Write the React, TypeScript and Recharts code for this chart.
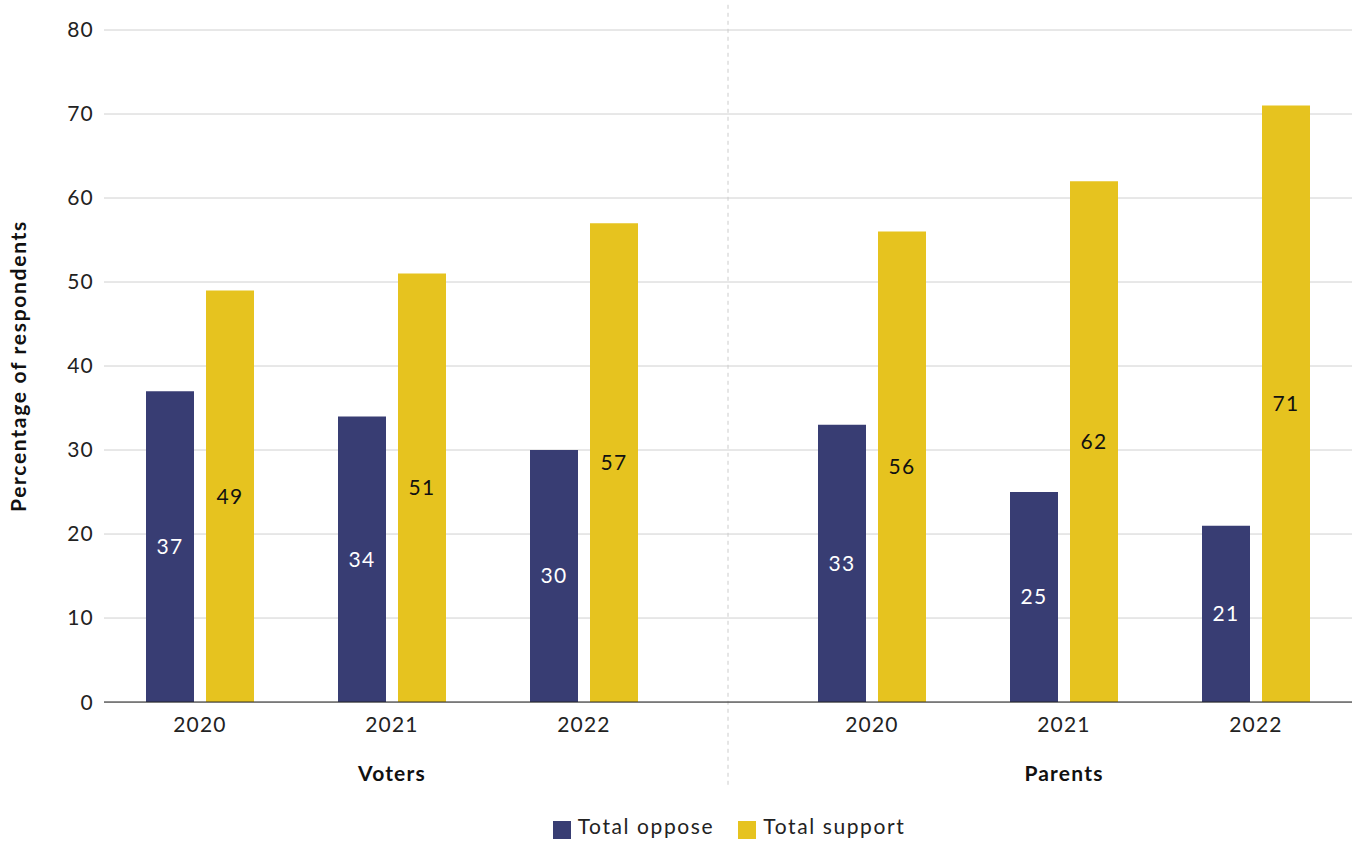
import {
  BarChart,
  Bar,
  XAxis,
  YAxis,
  CartesianGrid,
  Legend,
  LabelList,
  ReferenceLine,
} from "recharts";

const groups = ["Voters", "Parents"];
const years = ["2020", "2021", "2022"];
const oppose = [37, 34, 30, 33, 25, 21];
const support = [49, 51, 57, 56, 62, 71];
const yTicks = [0, 10, 20, 30, 40, 50, 60, 70, 80];

const NAVY = "#383d73";
const YELLOW = "#e6c31f";
const TEXT = "#222";
const FONT = "Lato, 'Noto Sans', sans-serif";

// each group takes 3 slots, with half a slot of space between groups
const slotOf = (g: number, y: number) => g * (years.length + 0.5) + y + 0.5;

const data = groups.flatMap((_, g) =>
  years.map((year, y) => ({
    x: slotOf(g, y),
    year,
    oppose: oppose[g * years.length + y],
    support: support[g * years.length + y],
  }))
);

const yearTicks = data.map((d) => d.x);
const groupTicks = groups.map((_, g) => slotOf(g, (years.length - 1) / 2));
const maxX = groups.length * years.length + 0.5;
const divider = years.length + 0.25;

const yearLabel = (v: number) => data.find((d) => d.x === v)?.year ?? "";
const groupLabel = (v: number) => groups[groupTicks.indexOf(v)] ?? "";

function YLabel({ viewBox }: any) {
  const cy = viewBox.y + viewBox.height / 2;
  return (
    <text
      x={18}
      y={cy}
      transform={`rotate(-90, 18, ${cy})`}
      textAnchor="middle"
      dominantBaseline="central"
      fontSize={21}
      fontWeight={700}
      fill="#111"
      style={{ letterSpacing: 1.7 }}
    >
      Percentage of respondents
    </text>
  );
}

export default function App() {
  return (
    <div
      style={{
        position: "absolute",
        left: 0,
        top: 0,
        fontFamily: FONT,
        letterSpacing: 1.2,
      }}
    >
      <BarChart
        width={1354}
        height={841}
        data={data}
        barSize={48}
        barGap={12}
        margin={{ top: 30, right: 2, left: 0, bottom: 2 }}
      >
        <CartesianGrid vertical={false} stroke="#d0d0d0" />
        <XAxis
          dataKey="x"
          type="number"
          domain={[0, maxX]}
          ticks={yearTicks}
          tickFormatter={yearLabel}
          tickLine={false}
          axisLine={{ stroke: "#222" }}
          tickMargin={9}
          height={50}
          tick={{ fill: TEXT, fontSize: 21 }}
          interval={0}
        />
        <XAxis
          xAxisId="group"
          dataKey="x"
          type="number"
          domain={[0, maxX]}
          ticks={groupTicks}
          tickFormatter={groupLabel}
          tickLine={false}
          axisLine={false}
          tickMargin={8}
          height={61}
          tick={{ fill: "#111", fontSize: 21, fontWeight: 700 }}
          interval={0}
        />
        <YAxis
          domain={[0, 80]}
          ticks={yTicks}
          width={104}
          axisLine={false}
          tickLine={false}
          tickMargin={4}
          tick={{ fill: TEXT, fontSize: 21 }}
          label={<YLabel />}
        />
        <ReferenceLine
          segment={[
            { x: divider, y: 83 },
            { x: divider, y: -10 },
          ]}
          stroke="#cccccc"
          strokeDasharray="4 4"
          ifOverflow="visible"
        />
        <Legend
          verticalAlign="bottom"
          iconType="square"
          iconSize={18}
          wrapperStyle={{ left: 117, width: 1248 }}
          formatter={(value: string) => (
            <span
              style={{
                color: TEXT,
                fontSize: 21,
                letterSpacing: 1.6,
                marginLeft: 3,
                marginRight: 14,
              }}
            >
              {value}
            </span>
          )}
        />
        <Bar dataKey="oppose" name="Total oppose" fill={NAVY} isAnimationActive={false}>
          <LabelList dataKey="oppose" position="center" fill="#fff" fontSize={21} />
        </Bar>
        <Bar dataKey="support" name="Total support" fill={YELLOW} isAnimationActive={false}>
          <LabelList dataKey="support" position="center" fill="#111" fontSize={21} />
        </Bar>
      </BarChart>
    </div>
  );
}
